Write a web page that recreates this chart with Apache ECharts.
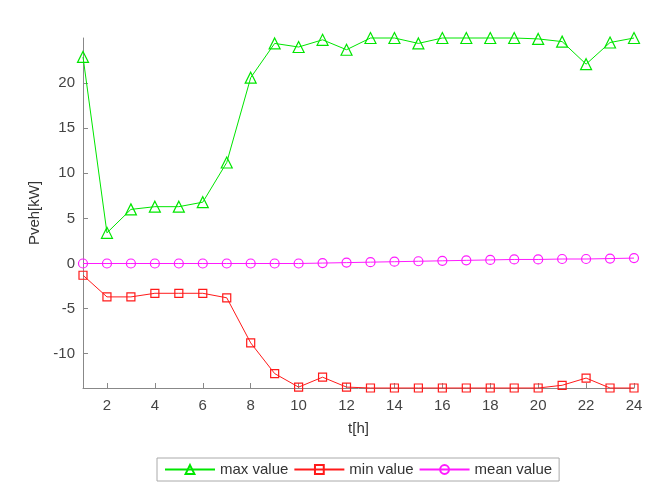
<!DOCTYPE html>
<html>
<head>
<meta charset="utf-8">
<script src="https://cdn.jsdelivr.net/npm/echarts@6/dist/echarts.min.js"></script>
<style>html,body{margin:0;padding:0;background:#fff}#c{width:660px;height:487px}</style>
</head>
<body>
<div id="c"></div>
<script>
var hours = [1,2,3,4,5,6,7,8,9,10,11,12,13,14,15,16,17,18,19,20,21,22,23,24];
var maxValue = [22.9,3.4,6.0,6.3,6.3,6.8,11.2,20.6,24.4,24.0,24.8,23.7,25.0,25.0,24.4,25.0,25.0,25.0,25.0,24.9,24.6,22.1,24.5,25.0];
var minValue = [-1.3,-3.7,-3.7,-3.3,-3.3,-3.3,-3.8,-8.8,-12.2,-13.7,-12.6,-13.7,-13.8,-13.8,-13.8,-13.8,-13.8,-13.8,-13.8,-13.8,-13.5,-12.7,-13.8,-13.8];
var meanValue = [0,0,0,0,0,0,0,0,0,0,0.05,0.1,0.15,0.2,0.25,0.3,0.35,0.4,0.45,0.45,0.5,0.5,0.55,0.6];
var seriesNames = ['max value','min value','mean value'];

function pairs(v){ return hours.map(function(h,i){ return [h, v[i]]; }); }
function mk(name, data, color, symbol, size){
  return {
    name: name, type: 'line', data: pairs(data), clip: false,
    symbol: symbol, symbolSize: size, showAllSymbol: true,
    lineStyle: {color: color, width: 1},
    itemStyle: {color: 'rgba(255,255,255,0)', borderColor: color, borderWidth: 1.2},
    emphasis: {disabled: true}
  };
}
var chart = echarts.init(document.getElementById('c'), null, {renderer: 'canvas'});
chart.setOption({
  animation: false,
  backgroundColor: '#fff',
  textStyle: {fontFamily: 'Liberation Sans, Arial, sans-serif'},
  grid: {left: 83, right: 26, top: 38, bottom: 99, containLabel: false},
  legend: {
    data: seriesNames, left: 157, top: 458,
    itemWidth: 50, itemHeight: 11, itemGap: 5,
    padding: [4, 7], borderColor: '#aaa', borderWidth: 1, backgroundColor: '#fff',
    textStyle: {fontSize: 15, color: '#333', fontFamily: 'Liberation Sans, Arial, sans-serif'}
  },
  xAxis: {
    type: 'value', min: 1, max: 24, minInterval: 2, maxInterval: 2,
    name: 't[h]', nameLocation: 'middle', nameGap: 33,
    nameTextStyle: {fontSize: 15, color: '#333'},
    axisLine: {onZero: false, lineStyle: {color: '#888', width: 1}},
    axisTick: {inside: true, length: 5, lineStyle: {color: '#888'}},
    axisLabel: {fontSize: 15, color: '#444', margin: 10, showMinLabel: false},
    splitLine: {show: false}
  },
  yAxis: {
    type: 'value', min: -13.8, max: 25, minInterval: 5, maxInterval: 5,
    name: 'Pveh[kW]', nameLocation: 'middle', nameGap: 41, nameRotate: 90,
    nameTextStyle: {fontSize: 15, color: '#333'},
    axisLine: {show: true, onZero: false, lineStyle: {color: '#888', width: 1}},
    axisTick: {show: true, inside: true, length: 5, lineStyle: {color: '#888'}},
    axisLabel: {fontSize: 15, color: '#444', margin: 8, showMinLabel: false, showMaxLabel: false},
    splitLine: {show: false}
  },
  series: [
    mk(seriesNames[0], maxValue, '#00e600', 'triangle', 11),
    mk(seriesNames[1], minValue, '#ff1a1a', 'rect', 8),
    mk(seriesNames[2], meanValue, '#ff1aff', 'circle', 9)
  ]
});
</script>
</body>
</html>
